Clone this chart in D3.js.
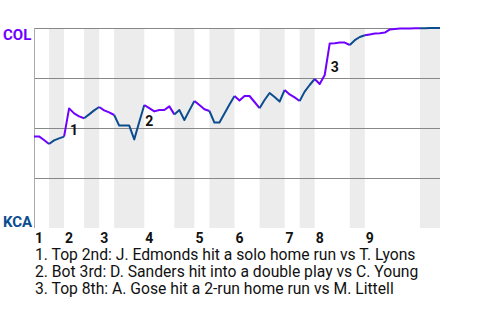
<!DOCTYPE html>
<html>
<head>
<meta charset="utf-8">
<script src="https://cdn.jsdelivr.net/npm/d3@7"></script>
<style>
  body { margin: 0; background: #fff; }
  text { font-family: Roboto, sans-serif; }
</style>
</head>
<body>
<div id="chart"></div>
<script>
// teams: visitors (top of chart) and home (bottom)
const teams = ["COL", "KCA"];
const teamColors = ["#7000ff", "#0b4d8e"];
const inningLabels = ["1", "2", "3", "4", "5", "6", "7", "8", "9"];
// plate appearances in each half inning (top 1, bot 1, top 2, ...)
const paPerHalf = [3, 3, 4, 3, 3, 6, 6, 4, 3, 5, 5, 5, 3, 3, 7, 3, 11, 4];
// COL win probability after each plate appearance (first value = start of game)
const winProb = [
  0.458, 0.458, 0.44, 0.42,
  0.438, 0.448, 0.457,
  0.598, 0.573, 0.558, 0.549,
  0.568, 0.588, 0.605,
  0.588, 0.578, 0.565,
  0.512, 0.512, 0.512, 0.443, 0.53, 0.615,
  0.599, 0.583, 0.59, 0.59, 0.608, 0.568,
  0.59, 0.54, 0.588, 0.635,
  0.615, 0.594, 0.585,
  0.527, 0.527, 0.573, 0.618, 0.66,
  0.637, 0.66, 0.66, 0.63, 0.599,
  0.64, 0.675, 0.655, 0.632, 0.69,
  0.668, 0.653, 0.635,
  0.682, 0.715, 0.745,
  0.72, 0.765, 0.923, 0.924, 0.927, 0.927, 0.915,
  0.939, 0.955, 0.964,
  0.968, 0.972, 0.974, 0.977, 0.993, 0.995, 0.997, 0.998, 0.998, 0.999, 0.999,
  0.999, 1.0, 1.0, 1.0
];
const noteEvents = [7, 22, 59];
const noteTexts = [
  "Top 2nd: J. Edmonds hit a solo home run vs T. Lyons",
  "Bot 3rd: D. Sanders hit into a double play vs C. Young",
  "Top 8th: A. Gose hit a 2-run home run vs M. Littell"
];

const width = 480, height = 320;
const plotL = 34, plotR = 440, plotT = 28, plotB = 228;

const x = d3.scaleLinear().domain([0, winProb.length - 1]).range([plotL, plotR]);
const y = d3.scaleLinear().domain([0, 1]).range([plotB, plotT]);

const svg = d3.select("#chart").append("svg")
    .attr("width", width)
    .attr("height", height);

// half inning start indexes
let starts = [], acc = 0;
paPerHalf.forEach(n => { starts.push(acc); acc += n; });
const halves = paPerHalf.map((n, k) => ({k: k, start: starts[k], end: starts[k] + n}));

// shaded bottom halves
svg.append("g")
  .selectAll("rect")
  .data(halves.filter(d => d.k % 2 === 1))
  .join("rect")
    .attr("x", d => x(d.start))
    .attr("width", d => x(d.end) - x(d.start))
    .attr("y", plotT)
    .attr("height", plotB - plotT)
    .attr("fill", "#ececec");

// grid
svg.append("g")
  .selectAll("line")
  .data([0.25, 0.5, 0.75, 1])
  .join("line")
    .attr("x1", plotL).attr("x2", plotR)
    .attr("y1", d => Math.round(y(d)) + 0.5)
    .attr("y2", d => Math.round(y(d)) + 0.5)
    .attr("stroke", "#888")
    .attr("stroke-width", 1);

svg.append("line")
    .attr("x1", plotL + 0.5).attr("x2", plotL + 0.5)
    .attr("y1", plotT).attr("y2", plotB)
    .attr("stroke", "#aaa");

// team labels
svg.append("text")
    .attr("x", 3).attr("y", 40)
    .attr("font-size", 15).attr("font-weight", "bold")
    .attr("fill", teamColors[0])
    .text(teams[0]);
svg.append("text")
    .attr("x", 3).attr("y", 227)
    .attr("font-size", 15).attr("font-weight", "bold")
    .attr("fill", teamColors[1])
    .text(teams[1]);

// win probability line, one path per half inning
const line = d3.line()
    .x(d => x(d))
    .y(d => y(winProb[d]));

svg.append("g")
  .selectAll("path")
  .data(halves)
  .join("path")
    .attr("d", d => line(d3.range(d.start, d.end + 1)))
    .attr("fill", "none")
    .attr("stroke", d => teamColors[d.k % 2])
    .attr("stroke-width", 2)
    .attr("stroke-linejoin", "round");

// inning numbers
svg.append("g")
  .selectAll("text")
  .data(halves.filter(d => d.k % 2 === 0))
  .join("text")
    .attr("x", d => x(d.start) + 1)
    .attr("y", 243)
    .attr("font-size", 14).attr("font-weight", "bold")
    .attr("fill", "#111")
    .text((d, i) => inningLabels[i]);

// event markers
svg.append("g")
  .selectAll("text")
  .data(noteEvents)
  .join("text")
    .attr("x", d => x(d) + 1)
    .attr("y", d => (y(winProb[d - 1]) + y(winProb[d])) / 2 + 12.5)
    .attr("font-size", 14).attr("font-weight", "bold")
    .attr("fill", "#111")
    .text((d, i) => i + 1);

// notes
svg.append("g")
  .selectAll("text")
  .data(noteTexts)
  .join("text")
    .attr("x", 35)
    .attr("y", (d, i) => 260 + i * 17)
    .attr("font-size", 15.7)
    .attr("fill", "#111")
    .text((d, i) => `${i + 1}. ${d}`);
</script>
</body>
</html>
